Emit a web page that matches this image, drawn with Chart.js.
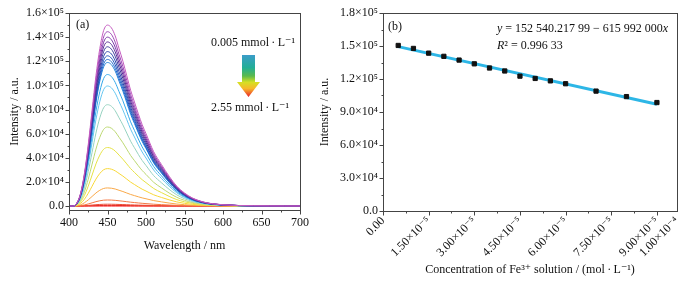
<!DOCTYPE html>
<html>
<head>
<meta charset="utf-8">
<script src="https://cdn.jsdelivr.net/npm/chart.js@4.4.0/dist/chart.umd.min.js"></script>
<style>
  html, body { margin: 0; padding: 0; background: #fff; }
  #c1 { position: absolute; left: 0; top: 0; }
  #c2 { position: absolute; left: 315px; top: 0; }
</style>
</head>
<body>
<canvas id="c1" width="315" height="281"></canvas>
<canvas id="c2" width="376" height="281"></canvas>
<script>
// (a) emission spectra
var wavelengths = [400,405,410,415,420,425,430,435,440,445,450,455,460,465,470,475,480,485,490,495,500,510,520,530,540,550,560,570,580,590,600,620,640,660,680,700];
// common profile (peak = 1)
var profile = [0,0,0.015,0.07,0.18,0.34,0.53,0.72,0.87,0.97,1.0,0.985,0.94,0.87,0.8,0.72,0.64,0.575,0.51,0.45,0.4,0.3,0.23,0.165,0.11,0.072,0.045,0.028,0.017,0.011,0.007,0.003,0.0015,0.0008,0.0004,0.0002];
// peak heights of each curve, 0.005 -> 2.55 mmol/L
var peaks = [150000,144500,140000,136000,132000,128000,124500,121500,119000,109000,99500,84000,65500,48500,31000,15000,5000,1500,500,0];
var curveColors = ['#c45cc0','#9b45b5','#7a34a6','#5a2c96','#3e3a9c','#2c46ac','#2456bc','#1f68cc','#2282da','#34a8ea','#66c6f0','#96d2c0','#bcd872','#e6e244','#f8d838','#f9a848','#f47844','#ec4c34','#e42a24','#ff1010'];
var aYTicks = [0,20000,40000,60000,80000,100000,120000,140000,160000];
var aYLabels = ['0.0','2.0×10⁴','4.0×10⁴','6.0×10⁴','8.0×10⁴','1.0×10⁵','1.2×10⁵','1.4×10⁵','1.6×10⁵'];
var aXTicks = [400,450,500,550,600,650,700];

// (b) linear fit
var concentrations = [5e-6,1e-5,1.5e-5,2e-5,2.5e-5,3e-5,3.5e-5,4e-5,4.5e-5,5e-5,5.5e-5,6e-5,7e-5,8e-5,9e-5];
var intensities = [150500,147800,143500,140600,137200,133800,130000,127300,122600,120500,118300,115700,109000,104000,98600];
var fitX = [5e-6,9e-5];
var fitY = [149460,97100];
var bXTicks = [0,1.5e-5,3e-5,4.5e-5,6e-5,7.5e-5,9e-5,9.66e-5];
var bXLabels = ['0.00','1.50×10⁻⁵','3.00×10⁻⁵','4.50×10⁻⁵','6.00×10⁻⁵','7.50×10⁻⁵','9.00×10⁻⁵','1.00×10⁻⁴'];
var bYTicks = [0,30000,60000,90000,120000,150000,180000];
var bYLabels = ['0.0','3.0×10⁴','6.0×10⁴','9.0×10⁴','1.2×10⁵','1.5×10⁵','1.8×10⁵'];

var SERIF = '"Liberation Serif", "DejaVu Serif", serif';
Chart.defaults.font.family = SERIF;
Chart.defaults.color = '#111';

function mids(arr) {
  var out = [];
  for (var i = 0; i < arr.length - 1; i++) out.push((arr[i] + arr[i + 1]) / 2);
  return out;
}

// frame + outward major/minor ticks, Origin style
function framePlugin(xMajor, yMajor) {
  return {
    id: 'frame',
    afterDraw: function (chart) {
      var ctx = chart.ctx, a = chart.chartArea;
      var xs = chart.scales.x, ys = chart.scales.y;
      ctx.save();
      ctx.strokeStyle = '#444';
      ctx.lineWidth = 1;
      ctx.strokeRect(Math.round(a.left) + 0.5, Math.round(a.top) + 0.5, Math.round(a.right - a.left), Math.round(a.bottom - a.top));
      function seg(x1, y1, x2, y2) { ctx.beginPath(); ctx.moveTo(x1, y1); ctx.lineTo(x2, y2); ctx.stroke(); }
      var b = Math.round(a.bottom) + 0.5, l = Math.round(a.left) + 0.5;
      xMajor.forEach(function (v) { var p = Math.round(xs.getPixelForValue(v)) + 0.5; seg(p, b, p, b + 4); });
      mids(xMajor).forEach(function (v) { var p = Math.round(xs.getPixelForValue(v)) + 0.5; seg(p, b, p, b + 2); });
      yMajor.forEach(function (v) { var p = Math.round(ys.getPixelForValue(v)) + 0.5; seg(l, p, l - 4, p); });
      mids(yMajor).forEach(function (v) { var p = Math.round(ys.getPixelForValue(v)) + 0.5; seg(l, p, l - 2, p); });
      ctx.restore();
    }
  };
}

// concentration legend for (a)
var legendPlugin = {
  id: 'concLegend',
  afterDraw: function (chart) {
    var ctx = chart.ctx;
    ctx.save();
    ctx.fillStyle = '#111';
    ctx.font = '12px ' + SERIF;
    ctx.textAlign = 'left';
    ctx.textBaseline = 'middle';
    ctx.fillText('(a)', 76, 25);
    ctx.textAlign = 'center';
    ctx.fillText('0.005 mmol\u2009·\u2009L⁻¹', 253, 43);
    ctx.fillText('2.55 mmol\u2009·\u2009L⁻¹', 250, 108);
    var g = ctx.createLinearGradient(0, 55, 0, 97);
    g.addColorStop(0, '#3b9cc9');
    g.addColorStop(0.3, '#22ae96');
    g.addColorStop(0.5, '#5cba4c');
    g.addColorStop(0.65, '#d6e024');
    g.addColorStop(0.8, '#f7b82a');
    g.addColorStop(1, '#e8202a');
    ctx.fillStyle = g;
    ctx.beginPath();
    ctx.moveTo(242, 55); ctx.lineTo(255, 55); ctx.lineTo(255, 82); ctx.lineTo(260, 82);
    ctx.lineTo(248.5, 97); ctx.lineTo(237, 82); ctx.lineTo(242, 82);
    ctx.closePath();
    ctx.fill();
    ctx.restore();
  }
};

// mixed italic / upright text for (b)
function drawRuns(ctx, runs, x, y) {
  runs.forEach(function (r) {
    ctx.font = (r[1] ? 'italic ' : '') + '12px ' + SERIF;
    ctx.fillText(r[0], x, y);
    x += ctx.measureText(r[0]).width;
  });
}
var eqPlugin = {
  id: 'equation',
  afterDraw: function (chart) {
    var ctx = chart.ctx;
    ctx.save();
    ctx.fillStyle = '#111';
    ctx.textAlign = 'left';
    ctx.textBaseline = 'middle';
    ctx.font = '12px ' + SERIF;
    ctx.fillText('(b)', 73, 27);
    drawRuns(ctx, [['y', true], [' = 152 540.217 99 − 615 992 000', false], ['x', true]], 182, 29);
    drawRuns(ctx, [['R', true], ['² = 0.996 33', false]], 182, 46);
    ctx.restore();
  }
};

var spectra = peaks.map(function (pk, i) {
  return {
    data: wavelengths.map(function (w, j) { return { x: w, y: Math.round(profile[j] * pk) }; }),
    borderColor: curveColors[i],
    borderWidth: 1,
    pointRadius: 0,
    cubicInterpolationMode: 'monotone'
  };
});

new Chart(document.getElementById('c1'), {
  type: 'line',
  data: { datasets: spectra },
  options: {
    responsive: false,
    animation: false,
    layout: { padding: { top: 13, right: 15, left: 0, bottom: 0 } },
    plugins: { legend: { display: false }, tooltip: { enabled: false } },
    scales: {
      x: {
        type: 'linear', min: 400, max: 700,
        grid: { display: false, drawTicks: false }, border: { display: false },
        afterBuildTicks: function (s) { s.ticks = aXTicks.map(function (v) { return { value: v }; }); },
        afterFit: function (s) { s.height = 71; },
        ticks: { padding: 6, font: { size: 12 }, maxRotation: 0 },
        title: { display: true, text: 'Wavelength / nm', font: { size: 12 }, padding: { top: 0, bottom: 28 } }
      },
      y: {
        type: 'linear', min: -3300, max: 160000,
        grid: { display: false, drawTicks: false }, border: { display: false },
        afterBuildTicks: function (s) { s.ticks = aYTicks.map(function (v) { return { value: v }; }); },
        afterFit: function (s) { s.width = 69; },
        ticks: {
          padding: 5, font: { size: 12 },
          callback: function (v) { return aYLabels[aYTicks.indexOf(v)]; }
        },
        title: { display: true, text: 'Intensity / a.u.', font: { size: 12 }, padding: { top: 8, bottom: 0 } }
      }
    }
  },
  plugins: [framePlugin(aXTicks, aYTicks), legendPlugin]
});

new Chart(document.getElementById('c2'), {
  type: 'scatter',
  data: {
    datasets: [
      {
        data: concentrations.map(function (c, i) { return { x: c, y: intensities[i] }; }),
        pointStyle: 'rect', pointRadius: 3, backgroundColor: '#111', borderColor: '#111',
        order: 0
      },
      {
        data: fitX.map(function (c, i) { return { x: c, y: fitY[i] }; }),
        showLine: true, borderColor: '#2db6e6', borderWidth: 3, pointRadius: 0,
        order: 1
      }
    ]
  },
  options: {
    responsive: false,
    animation: false,
    layout: { padding: { top: 13, right: 14, left: 0, bottom: 0 } },
    plugins: { legend: { display: false }, tooltip: { enabled: false } },
    scales: {
      x: {
        type: 'linear', min: 0, max: 9.66e-5,
        grid: { display: false, drawTicks: false }, border: { display: false },
        afterBuildTicks: function (s) { s.ticks = bXTicks.map(function (v) { return { value: v }; }); },
        afterFit: function (s) { s.height = 70; },
        ticks: {
          padding: 3, font: { size: 12 }, minRotation: 45, maxRotation: 45, autoSkip: false,
          callback: function (v) { return bXLabels[bXTicks.indexOf(v)]; }
        },
        title: { display: true, text: 'Concentration of Fe³⁺ solution / (mol\u2009·\u2009L⁻¹)', font: { size: 12 }, padding: { top: 0, bottom: 4 } }
      },
      y: {
        type: 'linear', min: 0, max: 180000,
        grid: { display: false, drawTicks: false }, border: { display: false },
        afterBuildTicks: function (s) { s.ticks = bYTicks.map(function (v) { return { value: v }; }); },
        afterFit: function (s) { s.width = 68; },
        ticks: {
          padding: 5, font: { size: 12 },
          callback: function (v) { return bYLabels[bYTicks.indexOf(v)]; }
        },
        title: { display: true, text: 'Intensity / a.u.', font: { size: 12 }, padding: { top: 3, bottom: 0 } }
      }
    }
  },
  plugins: [framePlugin(bXTicks.slice(0, 7), bYTicks), eqPlugin]
});
</script>
</body>
</html>
